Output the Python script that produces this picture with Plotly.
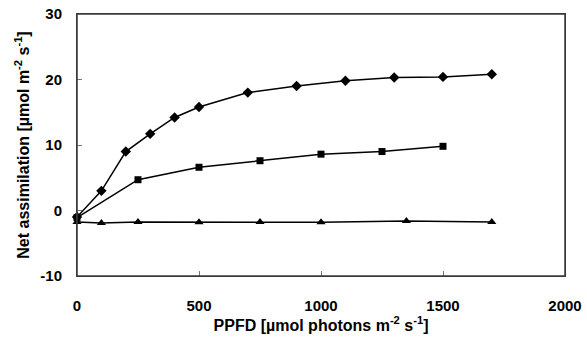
import plotly.graph_objects as go

x_diamond = [0, 100, 200, 300, 400, 500, 700, 900, 1100, 1300, 1500, 1700]
y_diamond = [-1.0, 3.0, 9.0, 11.7, 14.2, 15.8, 18.0, 19.0, 19.8, 20.3, 20.4, 20.8]

x_square = [0, 250, 500, 750, 1000, 1250, 1500]
y_square = [-1.1, 4.7, 6.6, 7.6, 8.6, 9.0, 9.8]

x_triangle = [0, 100, 250, 500, 750, 1000, 1350, 1700]
y_triangle = [-1.75, -1.9, -1.75, -1.8, -1.75, -1.8, -1.6, -1.75]

x_ticks = [0, 500, 1000, 1500, 2000]
y_ticks = [-10, 0, 10, 20, 30]

FONT = "Liberation Sans, Arial, sans-serif"

fig = go.Figure()
for xs, ys, sym, sz in [
    (x_diamond, y_diamond, "diamond", 8),
    (x_square, y_square, "square", 7),
    (x_triangle, y_triangle, "triangle-up", 8),
]:
    fig.add_trace(go.Scatter(
        x=xs, y=ys, mode="lines+markers",
        line=dict(color="black", width=1.5),
        marker=dict(symbol=sym, size=sz, color="black"),
        cliponaxis=False, showlegend=False,
    ))

# plot frame drawn above everything
fig.add_shape(type="rect", xref="paper", yref="paper", x0=0, y0=0, x1=1, y1=1,
              line=dict(color="#3a3a3a", width=1.5), fillcolor="rgba(0,0,0,0)",
              layer="above")

axis_common = dict(
    showgrid=False, zeroline=False, showline=True, mirror=True,
    linecolor="#3a3a3a", linewidth=1,
    ticks="inside", ticklen=5, tickcolor="#777777", tickwidth=1,
    automargin=False,
    tickfont=dict(family=FONT, size=15, color="black", weight="bold"),
)

fig.update_layout(
    width=587, height=346,
    margin=dict(l=77, r=22, t=14, b=70),
    paper_bgcolor="white", plot_bgcolor="white",
    font=dict(family=FONT, size=15, color="black", weight="bold"),
)
fig.update_xaxes(
    range=[x_ticks[0], x_ticks[-1]], tickvals=x_ticks, ticktext=[str(v) for v in x_ticks],
    ticklabelstandoff=16,
    title=dict(text="PPFD [µmol photons m<sup>-2</sup> s<sup>-1</sup>]", standoff=6,
               font=dict(family=FONT, size=16, weight="bold")),
    **axis_common,
)
fig.update_yaxes(
    range=[y_ticks[0], y_ticks[-1]], tickvals=y_ticks, ticktext=[str(v) for v in y_ticks],
    ticklabelstandoff=11,
    title=dict(text="Net assimilation [µmol m<sup>-2</sup> s<sup>-1</sup>]", standoff=6,
               font=dict(family=FONT, size=16, weight="bold")),
    **axis_common,
)

fig.write_html("out.html")
